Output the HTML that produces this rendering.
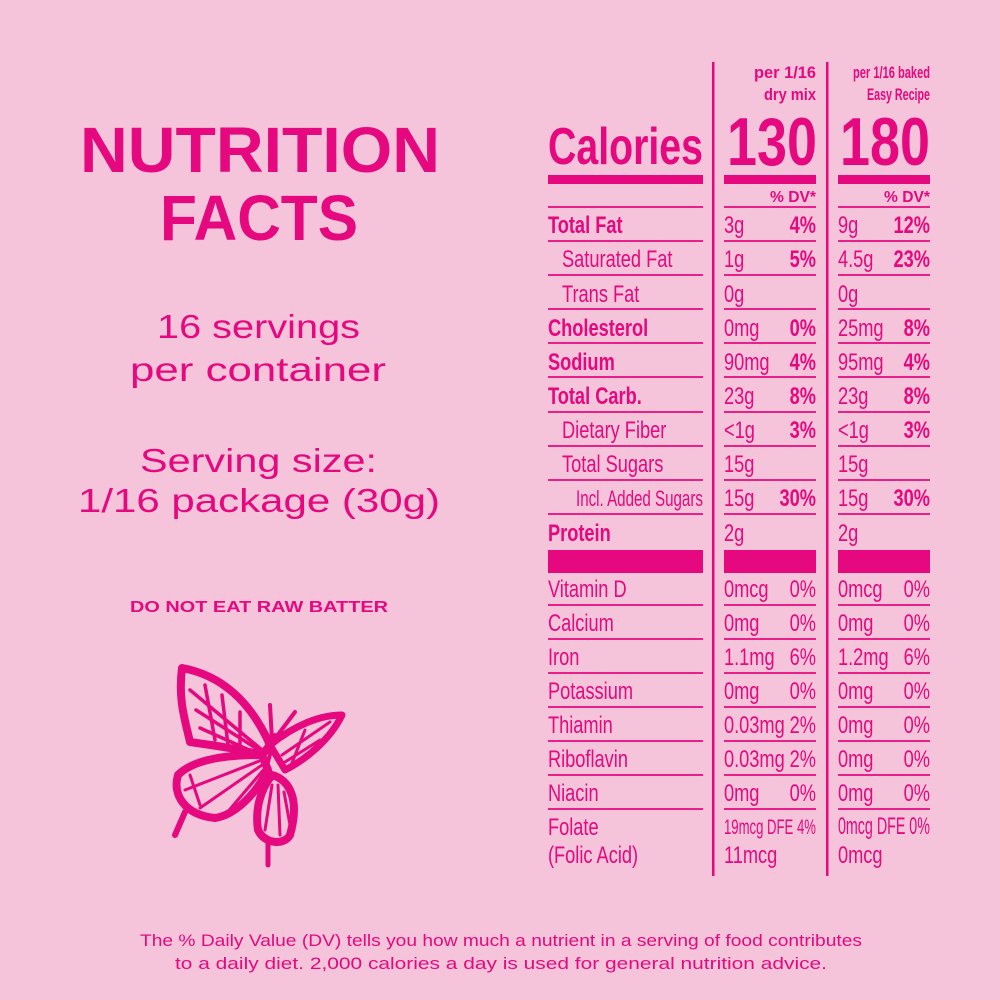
<!DOCTYPE html>
<html><head><meta charset="utf-8"><style>
html,body{margin:0;padding:0;background:#f5c4da;}
svg{display:block}
text{font-family:"Liberation Sans",sans-serif;fill:#e5087f}
.b{font-weight:bold}
</style></head><body>
<svg width="1000" height="1000" viewBox="0 0 1000 1000" xmlns="http://www.w3.org/2000/svg">
<rect width="1000" height="1000" fill="#f5c4da"/>
<!-- left side -->
<text class="b" x="80" y="172" font-size="64" textLength="360" lengthAdjust="spacingAndGlyphs">NUTRITION</text>
<text class="b" x="160" y="240" font-size="64" textLength="198" lengthAdjust="spacingAndGlyphs">FACTS</text>
<text x="157" y="338" font-size="33" textLength="203" lengthAdjust="spacingAndGlyphs">16 servings</text>
<text x="130" y="381" font-size="33" textLength="256" lengthAdjust="spacingAndGlyphs">per container</text>
<text x="140" y="472" font-size="33" textLength="237" lengthAdjust="spacingAndGlyphs">Serving size:</text>
<text x="78" y="512" font-size="33" textLength="362" lengthAdjust="spacingAndGlyphs">1/16 package (30g)</text>
<text class="b" x="130" y="612" font-size="16" textLength="258" lengthAdjust="spacingAndGlyphs">DO NOT EAT RAW BATTER</text>
<!-- butterfly -->
<g fill="none" stroke="#e5087f" stroke-linejoin="round" stroke-linecap="round">
<path d="M182 668 C220 675 250 700 270 745 L262 755 C235 748 210 745 190 742 C185 720 178 700 182 668 Z" stroke-width="8"/>
<path d="M190 690 L262 750 M196 710 L262 752 M200 728 L258 754 M205 685 L215 740 M222 695 L228 745 M240 712 L240 748" stroke-width="3.5"/>
<path d="M270 745 C295 725 320 715 342 715 C330 740 305 760 285 770 Z" stroke-width="7"/>
<path d="M282 755 L330 722 M285 762 L320 740 M290 768 L305 730" stroke-width="3"/>
<path d="M262 755 C230 755 195 758 178 775 C172 795 185 815 215 818 C235 815 255 795 268 770 Z" stroke-width="8"/>
<path d="M262 760 L185 790 M262 765 L200 808 M265 768 L225 815 M190 775 L200 805" stroke-width="3"/>
<path d="M185 812 L175 835" stroke-width="6"/>
<path d="M272 775 C290 780 300 800 290 835 C285 845 265 845 258 830 C255 810 260 790 272 775 Z" stroke-width="8"/>
<path d="M272 785 L265 830 M278 785 L280 835 M284 792 L290 825" stroke-width="3"/>
<path d="M268 840 L268 865" stroke-width="5"/>
<path d="M268 762 L275 735 M272 740 L270 705 M274 740 L295 712" stroke-width="4"/>
</g>
<!-- table lines -->
<g fill="#e5087f">
<rect x="712" y="62" width="2.5" height="814"/>
<rect x="826" y="62" width="2.5" height="814"/>
<rect x="548" y="175" width="155" height="9"/>
<rect x="724" y="175" width="92" height="9"/>
<rect x="838" y="175" width="92" height="9"/>
<rect x="548" y="550" width="155" height="23"/>
<rect x="724" y="550" width="92" height="23"/>
<rect x="838" y="550" width="92" height="23"/>
</g>
<g stroke="#e5087f" stroke-width="1.8">
<path d="M548 207H703M724 207H816M838 207H930
M548 241H703M724 241H816M838 241H930
M548 275H703M724 275H816M838 275H930
M548 309H703M724 309H816M838 309H930
M548 343H703M724 343H816M838 343H930
M548 377H703M724 377H816M838 377H930
M548 412H703M724 412H816M838 412H930
M548 446H703M724 446H816M838 446H930
M548 480H703M724 480H816M838 480H930
M548 514H703M724 514H816M838 514H930
M548 605H703M724 605H816M838 605H930
M548 639H703M724 639H816M838 639H930
M548 673H703M724 673H816M838 673H930
M548 707H703M724 707H816M838 707H930
M548 741H703M724 741H816M838 741H930
M548 775H703M724 775H816M838 775H930
M548 809H703M724 809H816M838 809H930"/>
</g>
<!-- header -->
<text class="b" x="816" y="78" font-size="17" text-anchor="end" textLength="62" lengthAdjust="spacingAndGlyphs">per 1/16</text>
<text class="b" x="816" y="100" font-size="17" text-anchor="end" textLength="52" lengthAdjust="spacingAndGlyphs">dry mix</text>
<text class="b" x="930" y="78" font-size="17" text-anchor="end" textLength="77" lengthAdjust="spacingAndGlyphs">per 1/16 baked</text>
<text class="b" x="930" y="100" font-size="17" text-anchor="end" textLength="63" lengthAdjust="spacingAndGlyphs">Easy Recipe</text>
<text class="b" x="548" y="164" font-size="52" textLength="155" lengthAdjust="spacingAndGlyphs">Calories</text>
<text class="b" x="727" y="165" font-size="68" textLength="90" lengthAdjust="spacingAndGlyphs">130</text>
<text class="b" x="840" y="165" font-size="68" textLength="90" lengthAdjust="spacingAndGlyphs">180</text>
<text class="b" x="816" y="202" font-size="16" text-anchor="end" textLength="46" lengthAdjust="spacingAndGlyphs">% DV*</text>
<text class="b" x="930" y="202" font-size="16" text-anchor="end" textLength="46" lengthAdjust="spacingAndGlyphs">% DV*</text>
<!-- rows -->
<g transform="scale(0.76 1)" font-size="24">
<text class="b" x="721" y="233">Total Fat</text>
<text x="739.5" y="267">Saturated Fat</text>
<text x="739.5" y="302">Trans Fat</text>
<text class="b" x="721" y="336">Cholesterol</text>
<text class="b" x="721" y="370">Sodium</text>
<text class="b" x="721" y="404">Total Carb.</text>
<text x="739.5" y="438">Dietary Fiber</text>
<text x="739.5" y="472">Total Sugars</text>
<text x="757.9" y="506" font-size="22" textLength="167" lengthAdjust="spacingAndGlyphs">Incl. Added Sugars</text>
<text class="b" x="721" y="541">Protein</text>
<text x="721" y="597">Vitamin D</text>
<text x="721" y="631">Calcium</text>
<text x="721" y="665">Iron</text>
<text x="721" y="699">Potassium</text>
<text x="721" y="733">Thiamin</text>
<text x="721" y="767">Riboflavin</text>
<text x="721" y="801">Niacin</text>
<text x="721" y="835">Folate</text>
<text x="721" y="863">(Folic Acid)</text>

<text x="952.6" y="233">3g</text><text class="b" x="1073.7" y="233" text-anchor="end">4%</text>
<text x="952.6" y="267">1g</text><text class="b" x="1073.7" y="267" text-anchor="end">5%</text>
<text x="952.6" y="302">0g</text>
<text x="952.6" y="336">0mg</text><text class="b" x="1073.7" y="336" text-anchor="end">0%</text>
<text x="952.6" y="370">90mg</text><text class="b" x="1073.7" y="370" text-anchor="end">4%</text>
<text x="952.6" y="404">23g</text><text class="b" x="1073.7" y="404" text-anchor="end">8%</text>
<text x="952.6" y="438">&lt;1g</text><text class="b" x="1073.7" y="438" text-anchor="end">3%</text>
<text x="952.6" y="472">15g</text>
<text x="952.6" y="506">15g</text><text class="b" x="1073.7" y="506" text-anchor="end">30%</text>
<text x="952.6" y="541">2g</text>
<text x="952.6" y="597">0mcg</text><text x="1073.7" y="597" text-anchor="end">0%</text>
<text x="952.6" y="631">0mg</text><text x="1073.7" y="631" text-anchor="end">0%</text>
<text x="952.6" y="665">1.1mg</text><text x="1073.7" y="665" text-anchor="end">6%</text>
<text x="952.6" y="699">0mg</text><text x="1073.7" y="699" text-anchor="end">0%</text>
<text x="952.6" y="733">0.03mg</text><text x="1073.7" y="733" text-anchor="end">2%</text>
<text x="952.6" y="767">0.03mg</text><text x="1073.7" y="767" text-anchor="end">2%</text>
<text x="952.6" y="801">0mg</text><text x="1073.7" y="801" text-anchor="end">0%</text>
<text x="952.6" y="834" font-size="21" textLength="121" lengthAdjust="spacingAndGlyphs">19mcg DFE 4%</text>
<text x="952.6" y="863">11mcg</text>

<text x="1102.6" y="233">9g</text><text class="b" x="1223.7" y="233" text-anchor="end">12%</text>
<text x="1102.6" y="267">4.5g</text><text class="b" x="1223.7" y="267" text-anchor="end">23%</text>
<text x="1102.6" y="302">0g</text>
<text x="1102.6" y="336">25mg</text><text class="b" x="1223.7" y="336" text-anchor="end">8%</text>
<text x="1102.6" y="370">95mg</text><text class="b" x="1223.7" y="370" text-anchor="end">4%</text>
<text x="1102.6" y="404">23g</text><text class="b" x="1223.7" y="404" text-anchor="end">8%</text>
<text x="1102.6" y="438">&lt;1g</text><text class="b" x="1223.7" y="438" text-anchor="end">3%</text>
<text x="1102.6" y="472">15g</text>
<text x="1102.6" y="506">15g</text><text class="b" x="1223.7" y="506" text-anchor="end">30%</text>
<text x="1102.6" y="541">2g</text>
<text x="1102.6" y="597">0mcg</text><text x="1223.7" y="597" text-anchor="end">0%</text>
<text x="1102.6" y="631">0mg</text><text x="1223.7" y="631" text-anchor="end">0%</text>
<text x="1102.6" y="665">1.2mg</text><text x="1223.7" y="665" text-anchor="end">6%</text>
<text x="1102.6" y="699">0mg</text><text x="1223.7" y="699" text-anchor="end">0%</text>
<text x="1102.6" y="733">0mg</text><text x="1223.7" y="733" text-anchor="end">0%</text>
<text x="1102.6" y="767">0mg</text><text x="1223.7" y="767" text-anchor="end">0%</text>
<text x="1102.6" y="801">0mg</text><text x="1223.7" y="801" text-anchor="end">0%</text>
<text x="1102.6" y="834" textLength="121" lengthAdjust="spacingAndGlyphs">0mcg DFE 0%</text>
<text x="1102.6" y="863">0mcg</text>
</g>
<!-- footer -->
<text x="140" y="946" font-size="17" textLength="722" lengthAdjust="spacingAndGlyphs">The % Daily Value (DV) tells you how much a nutrient in a serving of food contributes</text>
<text x="175" y="969" font-size="17" textLength="652" lengthAdjust="spacingAndGlyphs">to a daily diet. 2,000 calories a day is used for general nutrition advice.</text>
</svg>
</body></html>
